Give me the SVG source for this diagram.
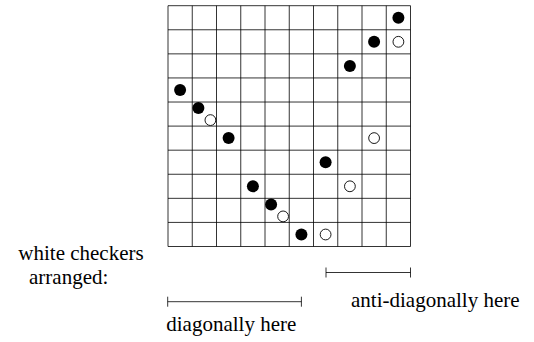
<svg xmlns="http://www.w3.org/2000/svg" width="534" height="342" viewBox="0 0 534 342">
<style>
.grid{fill:none;stroke:#000;stroke-width:0.8}
.b{fill:#000}
.w{fill:#fff;stroke:#000;stroke-width:0.9}
.br{fill:none;stroke:#000;stroke-width:0.8}
</style>
<rect width="534" height="342" fill="#fff"/>
<g id="board">
<path class="grid" d="M168,5.7V246.5M192.25,5.7V246.5M216.5,5.7V246.5M240.75,5.7V246.5M265,5.7V246.5M289.25,5.7V246.5M313.5,5.7V246.5M337.75,5.7V246.5M362,5.7V246.5M386.25,5.7V246.5M410.5,5.7V246.5M168,5.7H410.5M168,29.78H410.5M168,53.86H410.5M168,77.94H410.5M168,102.02H410.5M168,126.1H410.5M168,150.18H410.5M168,174.26H410.5M168,198.34H410.5M168,222.42H410.5M168,246.5H410.5"/>
</g>
<g id="black-checkers">
<circle class="b" cx="398.4" cy="17.7" r="6"/>
<circle class="b" cx="374.1" cy="41.8" r="6"/>
<circle class="b" cx="349.9" cy="65.9" r="6"/>
<circle class="b" cx="180.1" cy="90" r="6"/>
<circle class="b" cx="198.4" cy="108.1" r="6"/>
<circle class="b" cx="228.6" cy="138.1" r="6"/>
<circle class="b" cx="325.6" cy="162.2" r="6"/>
<circle class="b" cx="252.9" cy="186.3" r="6"/>
<circle class="b" cx="271.1" cy="204.4" r="6"/>
<circle class="b" cx="301.4" cy="234.5" r="6"/>
</g>
<g id="white-checkers">
<circle class="w" cx="398.4" cy="41.8" r="5.4"/>
<circle class="w" cx="210.4" cy="120.1" r="5.4"/>
<circle class="w" cx="374.1" cy="138.1" r="5.4"/>
<circle class="w" cx="349.9" cy="186.3" r="5.4"/>
<circle class="w" cx="283.1" cy="216.4" r="5.4"/>
<circle class="w" cx="325.6" cy="234.5" r="5.4"/>
</g>
<g id="connectors">
<path class="br" d="M326,272.5H410.5M326,267.5V277.5M410.5,267.5V277.5"/>
<path class="br" d="M167.7,301.7H301.4M167.7,296.7V306.7M301.4,296.7V306.7"/>
</g>
<g id="labels" font-size="21" fill="#000" text-anchor="middle">
<text font-family="Liberation Serif" x="81" y="260">white checkers</text>
<text font-family="Liberation Serif" x="68.7" y="283.5">arranged:</text>
<text font-family="Liberation Serif" x="435.3" y="306.5">anti-diagonally here</text>
<text font-family="Liberation Serif" x="231.3" y="331">diagonally here</text>
</g>
</svg>
